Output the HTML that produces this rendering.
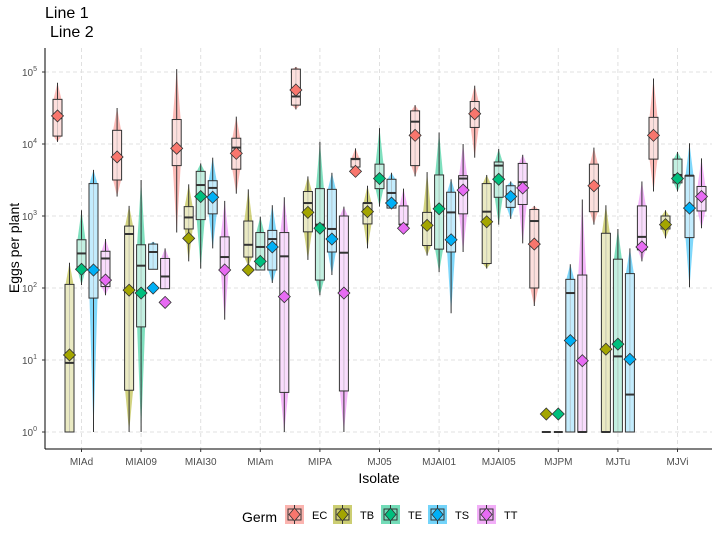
<!DOCTYPE html>
<html><head><meta charset="utf-8"><style>
body{margin:0;background:#fff;font-family:"Liberation Sans",sans-serif}
svg text{font-family:"Liberation Sans",sans-serif}
</style></head><body>
<svg id="chart" width="720" height="540" xmlns="http://www.w3.org/2000/svg">
<text x="45" y="18" font-size="16">Line 1</text>
<text x="50" y="37" font-size="16">Line 2</text>
<g id="grid"></g>
<g id="marks"></g>
<line x1="45" y1="48" x2="45" y2="449" stroke="#000"/>
<line x1="45" y1="449" x2="712" y2="449" stroke="#000"/>
<g id="yticks"></g>
<g id="xticks"></g>
<text transform="translate(19,248) rotate(-90)" text-anchor="middle" font-size="14">Eggs per plant</text>
<text x="379" y="483" text-anchor="middle" font-size="14">Isolate</text>
<g id="legend">
<text x="242" y="522" font-size="14">Germ</text>
</g>
</svg>
<script>
const categories=["MIAd","MIAI09","MIAI30","MIAm","MIPA","MJ05","MJAI01","MJAI05","MJPM","MJTu","MJVi"];
const germs=["EC","TB","TE","TS","TT"];
const colors=["#F8766D","#A3A500","#00BF7D","#00B0F6","#E76BF3"];
const yTicks=[0,1,2,3,4,5];
// log10 values per germ: [isolate] -> [whiskerLo, q1, median, q3, whiskerHi, mean]
const EC=[[4.03,4.11,4.36,4.62,4.85,4.39],[3.27,3.5,3.82,4.19,4.5,3.82],[2.77,3.7,3.96,4.34,5.04,3.94],[3.31,3.65,3.95,4.08,4.38,3.87],[4.48,4.54,4.66,5.04,5.07,4.75],[3.68,3.68,3.79,3.8,3.94,3.62],[3.55,3.7,4.31,4.46,4.54,4.12],[3.81,4.23,4.42,4.59,4.81,4.42],[1.75,2.0,2.93,3.09,3.14,2.61],[2.88,3.06,3.42,3.72,3.95,3.42],[3.34,3.79,4.12,4.37,4.91,4.12]];
const TB=[[0,0,0.96,2.05,2.35,1.07],[0,0.58,2.75,2.86,3.14,1.97],[2.37,2.82,2.98,3.13,3.44,2.69],[2.3,2.43,2.6,2.93,3.37,2.25],[2.39,2.78,3.18,3.34,3.55,3.05],[2.55,2.89,3.18,3.18,3.42,3.06],[2.45,2.59,2.87,3.05,3.61,2.87],[2.27,2.34,3.06,3.45,3.57,2.92],[0,0,0,0,0,0.25],[0,0,0,2.76,3.15,1.15],[2.69,2.82,2.88,3.0,3.08,2.88]];
const TE=[[2.04,2.25,2.48,2.67,3.08,2.26],[0,1.46,2.31,2.6,3.5,1.93],[2.27,2.95,3.43,3.62,3.73,3.27],[2.25,2.25,2.57,2.77,2.99,2.37],[1.9,2.11,2.88,3.38,4.03,2.83],[3.13,3.38,3.52,3.72,4.22,3.52],[2.22,2.54,3.1,3.57,4.16,3.1],[2.88,3.26,3.7,3.75,3.93,3.51],[0,0,0,0,0,0.25],[0,0,1.05,2.4,2.82,1.22],[3.34,3.46,3.57,3.79,3.89,3.52]];
const TS=[[0,1.86,2.23,3.45,3.64,2.25],[2.26,2.26,2.5,2.61,2.64,2.0],[2.55,3.03,3.39,3.49,3.81,3.26],[2.07,2.25,2.68,2.8,3.15,2.57],[2.18,2.5,2.82,3.37,3.6,2.68],[3.11,3.11,3.32,3.51,3.6,3.18],[1.65,2.5,3.05,3.33,3.51,2.67],[2.96,3.12,3.3,3.42,3.48,3.27],[0,0,1.93,2.12,2.33,1.27],[0,0,0.52,2.2,2.55,1.01],[2.01,2.7,3.56,3.56,4.01,3.11]];
const TT=[[1.9,2.02,2.41,2.51,2.68,2.11],[1.99,1.99,2.16,2.41,2.55,1.8],[1.56,2.25,2.43,2.71,3.21,2.25],[0,0.55,2.44,2.77,3.26,1.88],[0,0.57,2.49,3.0,3.13,1.93],[2.77,2.88,2.88,3.14,3.38,2.83],[2.5,3.03,3.52,3.56,4.0,3.36],[2.62,3.16,3.47,3.73,3.85,3.39],[0,0,0,2.18,3.23,0.99],[2.37,2.53,2.71,3.14,3.48,2.57],[2.83,3.07,3.25,3.41,3.8,3.27]];
const series=[EC,TB,TE,TS,TT];

const NS="http://www.w3.org/2000/svg";
const y=v=>432-72*v;
const x=i=>81.5+59.6*i;
const dodge=g=>(g-2)*12;
function mk(tag,attrs,parent){const e=document.createElementNS(NS,tag);for(const k in attrs)e.setAttribute(k,attrs[k]);parent.appendChild(e);return e;}
const grid=document.getElementById('grid'),marks=document.getElementById('marks'),yt=document.getElementById('yticks'),xt=document.getElementById('xticks'),leg=document.getElementById('legend');
yTicks.forEach(t=>{
  const l=mk('line',{x1:45,x2:712,y1:y(t),y2:y(t),stroke:'#e0e0e0','stroke-dasharray':'4,3'},grid);
  
  
  const tx=mk('text',{x:37,y:y(t)+4,'text-anchor':'end','font-size':'10',fill:'#4d4d4d'},yt);
  
  
  tx.innerHTML='10<tspan dy="-5" font-size="7">'+t+'</tspan>';
  mk('line',{x1:42,x2:45,y1:y(t),y2:y(t),stroke:'#333'},yt);
});
categories.forEach((c,i)=>{
  const l=mk('line',{x1:x(i),x2:x(i),y1:48,y2:449,stroke:'#e0e0e0','stroke-dasharray':'4,3'},grid);
  
  
  mk('line',{x1:x(i),x2:x(i),y1:449,y2:452,stroke:'#333'},xt);
  const tx=mk('text',{x:x(i),y:465,'text-anchor':'middle','font-size':'10',fill:'#4d4d4d'},xt);
  
  
  tx.textContent=c;
});
series.forEach((s,g)=>{
  const col=colors[g];
  s.forEach((d,i)=>{
    const cx=x(i)+dodge(g);
    const [lo,q1,med,q3,hi,mean]=d;
    const gr=mk('g',{},marks);
    
    
    if(hi>lo){
      mk('polygon',{points:`${cx},${y(hi)} ${cx+4},${y(q3)} ${cx+4},${y(q1)} ${cx},${y(lo)} ${cx-4},${y(q1)} ${cx-4},${y(q3)}`,fill:col,'fill-opacity':0.5},gr);
      mk('line',{x1:cx,x2:cx,y1:y(hi),y2:y(lo),stroke:'#333'},gr);
      const h=Math.max(1,y(q1)-y(q3));
      mk('rect',{x:cx-4.5,y:y(q3),width:9,height:h,fill:'#fff','fill-opacity':0.75},gr);
      mk('rect',{x:cx-4.5,y:y(q3),width:9,height:h,fill:col,'fill-opacity':0.12,stroke:'#333','stroke-width':1},gr);
    }
    mk('line',{x1:cx-4.5,x2:cx+4.5,y1:y(med),y2:y(med),stroke:'#333','stroke-width':2},gr);
    const m=y(mean);
    mk('polygon',{points:`${cx},${m-6} ${cx+6},${m} ${cx},${m+6} ${cx-6},${m}`,fill:col,stroke:'#333','stroke-width':0.8},gr);
  });
});
const kx=[285,333,381,428,477];
germs.forEach((gname,g)=>{
  const k=mk('g',{},leg);
  
  
  const X=kx[g],c=colors[g];
  mk('rect',{x:X,y:505,width:19,height:19,fill:c,'fill-opacity':0.55},k);
  mk('line',{x1:X+9.5,x2:X+9.5,y1:505,y2:524,stroke:'#333'},k);
  mk('rect',{x:X+3,y:509,width:13,height:11,fill:'none',stroke:'#333'},k);
  mk('polygon',{points:`${X+9.5},${508} ${X+15},${514.5} ${X+9.5},${521} ${X+4},${514.5}`,fill:c,stroke:'#333','stroke-width':0.8},k);
  const t=mk('text',{x:X+27,y:519,'font-size':'11'},k);
  t.textContent=gname;
});
</script>
</body></html>
